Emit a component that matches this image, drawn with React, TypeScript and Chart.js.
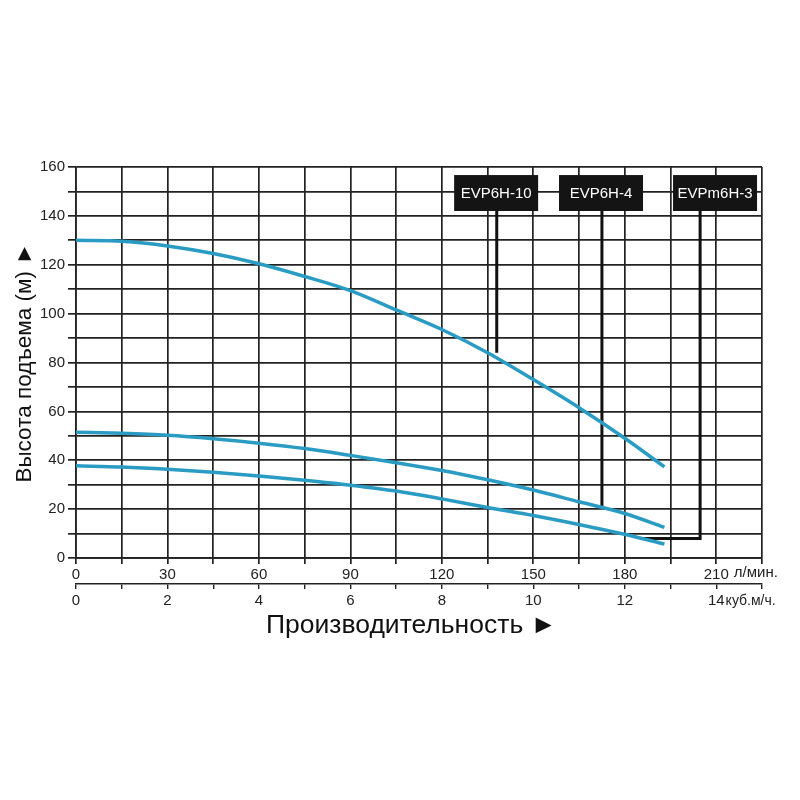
import { useEffect, useRef } from 'react'
import { Chart, registerables } from 'chart.js'

Chart.register(...registerables);

// flow rate, л/мин.
const FLOW = [0, 15, 30, 45, 60, 75, 90, 105, 120, 135, 150, 165, 180, 193];
// head, м
const HEAD_10 = [130, 129.6, 127.7, 124.6, 120.4, 115.2, 109.4, 101.5, 93.5, 84, 73, 61.5, 49, 37.3];
const HEAD_4 = [51.5, 51, 50.2, 48.8, 47, 44.8, 42, 39, 35.8, 32, 27.8, 23, 18.2, 12.5];
const HEAD_3 = [37.7, 37.2, 36.3, 35.1, 33.6, 31.8, 29.8, 27.4, 24.2, 20.7, 17.4, 13.7, 9.7, 5.7];

// tick labels
const LPM_TICKS = [0, 30, 60, 90, 120, 150, 180, 210];
const M3H_TICKS = [0, 2, 4, 6, 8, 10, 12, 14];
const HEAD_TICKS = [0, 20, 40, 60, 80, 100, 120, 140, 160];

// model tags and their leader lines (data units)
const MODELS = ['EVP6H-10', 'EVP6H-4', 'EVPm6H-3'];
const TAG_X = [137.8, 172.2, 209.6];
const LEADER_X = [138, 172.5, 204.7];
const LEADER_END = [84, 20.3, 8];
const LEADER_TAIL_X = [null, null, 185];
const TAG_TOP = 156.7;
const TAG_BOTTOM = 142;

const FONT = '"Liberation Sans", Arial, sans-serif';
const CURVE = '#2a9cc4';
const GRID = '#222';

const tagsPlugin = {
  id: 'tags',
  afterDatasetsDraw(chart: Chart) {
    const { ctx } = chart;
    const x = chart.scales.x;
    const y = chart.scales.y;
    const x2 = chart.scales.x2;
    ctx.save();
    MODELS.forEach((name, i) => {
      const cx = x.getPixelForValue(TAG_X[i]);
      const top = y.getPixelForValue(TAG_TOP);
      const bottom = y.getPixelForValue(TAG_BOTTOM);
      ctx.fillStyle = '#141414';
      ctx.fillRect(cx - 42, top, 84, bottom - top);
      ctx.fillStyle = '#fff';
      ctx.font = `15px ${FONT}`;
      ctx.textAlign = 'center';
      ctx.textBaseline = 'middle';
      ctx.fillText(name, cx, (top + bottom) / 2 + 1);
    });

    // units after the last tick labels
    ctx.fillStyle = GRID;
    ctx.textAlign = 'left';
    ctx.textBaseline = 'middle';
    ctx.font = `15px ${FONT}`;
    const last = LPM_TICKS[LPM_TICKS.length - 1];
    const px = x.getPixelForValue(last);
    ctx.fillText('л/мин.', px + ctx.measureText(String(last)).width / 2 + 5, x.top + 15);
    const lastM = String(M3H_TICKS[M3H_TICKS.length - 1]);
    const w = ctx.measureText(lastM).width;
    ctx.font = `14px ${FONT}`;
    ctx.fillText('куб.м/ч.', px + w / 2 + 1, x2.top + 17);

    // x title
    ctx.fillStyle = '#111';
    ctx.textAlign = 'center';
    ctx.font = `26.5px ${FONT}`;
    ctx.fillText('Производительность ►', x.getPixelForValue(110), x2.top + 42);
    ctx.restore();
  },
};

export default function App() {
  const canvasRef = useRef<HTMLCanvasElement>(null);
  const chartRef = useRef<Chart | null>(null);

  useEffect(() => {
    if (!canvasRef.current) return;
    chartRef.current?.destroy();

    const curve = (heads: number[]) => ({
      data: FLOW.map((f, i) => ({ x: f, y: heads[i] })),
      borderColor: CURVE,
      borderWidth: 3.5,
      pointRadius: 0,
      cubicInterpolationMode: 'monotone' as const,
      fill: false,
    });

    const leaders = MODELS.map((_, i) => {
      const pts = [
        { x: LEADER_X[i], y: TAG_BOTTOM },
        { x: LEADER_X[i], y: LEADER_END[i] },
      ];
      const tail = LEADER_TAIL_X[i];
      if (tail !== null) pts.push({ x: tail, y: LEADER_END[i] });
      return {
        data: pts,
        borderColor: '#111',
        borderWidth: 3,
        pointRadius: 0,
        tension: 0,
        fill: false,
      };
    });

    chartRef.current = new Chart(canvasRef.current, {
      type: 'line',
      data: {
        datasets: [curve(HEAD_10), curve(HEAD_4), curve(HEAD_3), ...leaders],
      },
      options: {
        animation: false,
        responsive: true,
        maintainAspectRatio: false,
        layout: { padding: { top: 167, right: 38, bottom: 176, left: 0 } },
        plugins: {
          legend: { display: false },
          tooltip: { enabled: false },
        },
        scales: {
          x: {
            type: 'linear',
            position: 'bottom',
            min: 0,
            max: 225,
            afterFit: (s: any) => { s.height = 26; },
            ticks: {
              stepSize: 15,
              autoSkip: false,
              maxRotation: 0,
              padding: 2,
              color: GRID,
              font: { family: FONT, size: 15 },
              callback: (v: any) => (LPM_TICKS.includes(Number(v)) ? String(v) : ''),
            },
            grid: { color: GRID, lineWidth: 1.7, tickLength: 6 },
            border: { display: true, color: GRID, width: 1.7 },
          },
          x2: {
            type: 'linear',
            position: 'bottom',
            display: true,
            min: 0,
            max: 225,
            afterFit: (s: any) => { s.height = 40; },
            ticks: {
              stepSize: 15,
              autoSkip: false,
              maxRotation: 0,
              padding: 3,
              color: GRID,
              font: { family: FONT, size: 15 },
              callback: (v: any) => {
                const i = LPM_TICKS.indexOf(Number(v));
                return i >= 0 ? String(M3H_TICKS[i]) : '';
              },
            },
            grid: { drawOnChartArea: false, color: GRID, lineWidth: 1.4, tickLength: 5 },
            border: { display: true, color: GRID, width: 1.4 },
          },
          y: {
            type: 'linear',
            min: 0,
            max: 160,
            afterFit: (s: any) => { s.width = 76; },
            ticks: {
              stepSize: 10,
              padding: 3,
              color: GRID,
              font: { family: FONT, size: 15 },
              callback: (v: any) => (HEAD_TICKS.includes(Number(v)) ? String(v) : ''),
            },
            grid: { color: GRID, lineWidth: 1.7, tickLength: 8 },
            border: { display: true, color: GRID, width: 1.7 },
            title: {
              display: true,
              text: 'Высота подъема (м) ►',
              color: '#111',
              font: { family: FONT, size: 22.5 },
              padding: { top: 11, bottom: 0 },
            },
          },
        },
      },
      plugins: [tagsPlugin],
    });

    return () => {
      chartRef.current?.destroy();
      chartRef.current = null;
    };
  }, []);

  return (
    <div style={{ position: 'absolute', left: 0, top: 0, width: 800, height: 800, background: '#fff' }}>
      <canvas ref={canvasRef} />
    </div>
  );
}
